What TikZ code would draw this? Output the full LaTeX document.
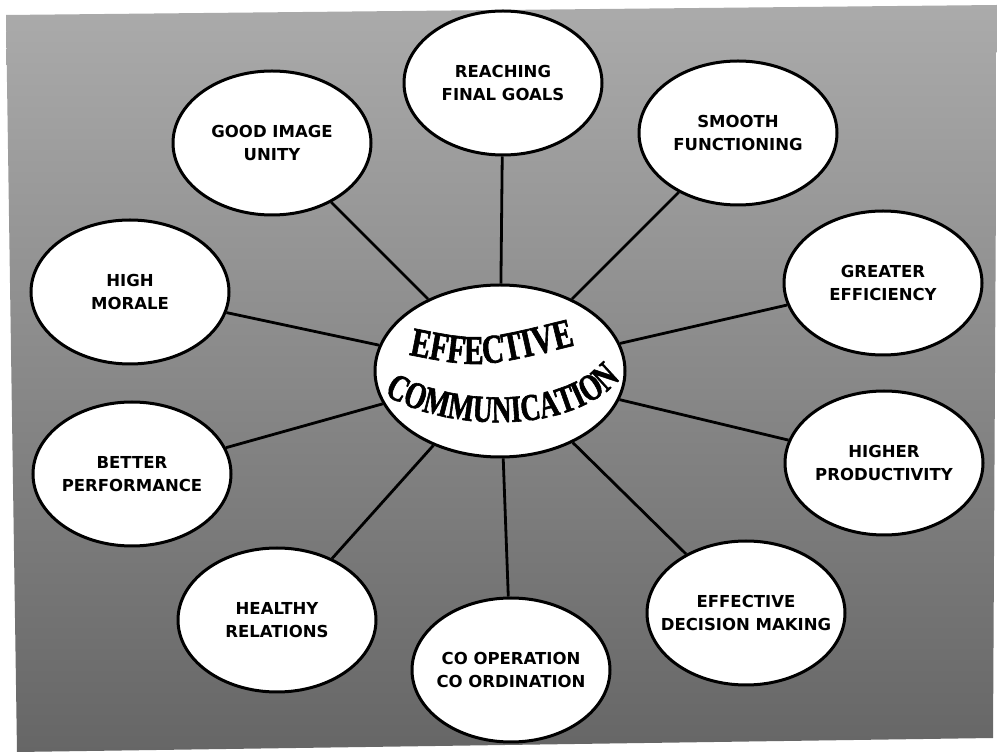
\documentclass[tikz,border=0pt]{standalone}
\usepackage{fontspec}
\newfontfamily\lblfont{DejaVu Sans}
\newfontfamily\ctrfont[FakeStretch=0.72,FakeBold=1.5]{Liberation Serif}
\usetikzlibrary{shapes.geometric,decorations.text}
\begin{document}
\begin{tikzpicture}[x=1pt,y=1pt,
  bubble/.style={ellipse, draw=black, line width=3pt, fill=white,
    minimum width=198pt, minimum height=144pt, inner sep=0pt},
  hub/.style={ellipse, draw=black, line width=3pt, fill=white,
    minimum width=250pt, minimum height=172pt, inner sep=0pt},
  lbltext/.style={align=center, text=black,
    font={\lblfont\bfseries\fontsize{16.5}{23}\selectfont}},
  conn/.style={draw=black, line width=2.8pt}]
\useasboundingbox (0,0) rectangle (997,753);
\fill[white] (0,0) rectangle (997,753);
\shade[top color=black!33, bottom color=black!60]
  (6,738) -- (997,748) -- (993,15) -- (17,1) -- cycle;

% central node
\node[hub] (ctr) at (500,382) {};

% outer nodes
\node[bubble, label={[lbltext]center:{REACHING\\FINAL GOALS}}] (reach) at (503,670) {};
\node[bubble, label={[lbltext]center:{SMOOTH\\FUNCTIONING}}] (smooth) at (738,620) {};
\node[bubble, label={[lbltext]center:{GREATER\\EFFICIENCY}}] (greater) at (883,470) {};
\node[bubble, label={[lbltext]center:{HIGHER\\PRODUCTIVITY}}] (higher) at (884,290) {};
\node[bubble, label={[lbltext]center:{EFFECTIVE\\DECISION MAKING}}] (decision) at (746,140) {};
\node[bubble, label={[lbltext]center:{CO OPERATION\\CO ORDINATION}}] (coop) at (511,83) {};
\node[bubble, label={[lbltext]center:{HEALTHY\\RELATIONS}}] (healthy) at (277,133) {};
\node[bubble, label={[lbltext]center:{BETTER\\PERFORMANCE}}] (better) at (132,279) {};
\node[bubble, label={[lbltext]center:{HIGH\\MORALE}}] (morale) at (130,461) {};
\node[bubble, label={[lbltext]center:{GOOD IMAGE\\UNITY}}] (goodimg) at (272,610) {};

% connectors
\foreach \n in {reach,smooth,greater,higher,decision,coop,healthy,better,morale,goodimg}
  \draw[conn] (ctr) -- (\n);

% central text
\path[decorate, decoration={text along path, text align=center,
  text={|\ctrfont\bfseries\fontsize{41}{41}\selectfont|EFFECTIVE}}]
  (400,400) .. controls (480,384) .. (584,410);
\path[decorate, decoration={text along path, text align=center,
  text={|\ctrfont\bfseries\fontsize{38}{38}\selectfont|COMMUNICATION}}]
  (374,366) .. controls (428,322) and (578,310) .. (628,384);
\end{tikzpicture}
\end{document}
